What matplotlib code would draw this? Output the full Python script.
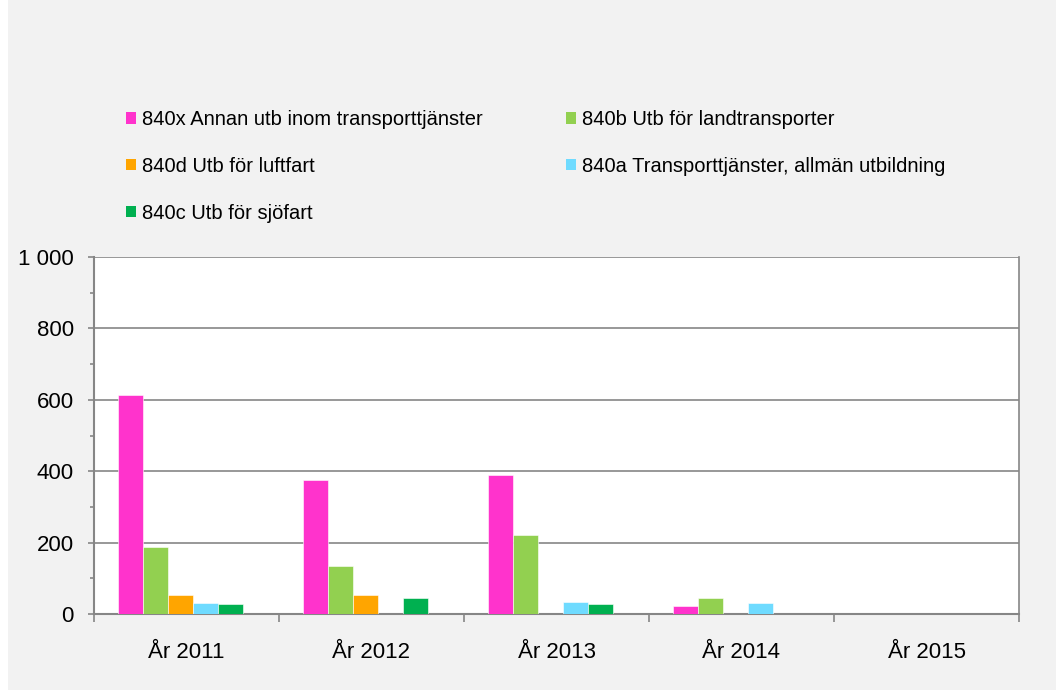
import numpy as np
import matplotlib.pyplot as plt
from matplotlib.patches import Patch, Rectangle
from matplotlib.ticker import MultipleLocator, FuncFormatter

plt.rcParams['font.family'] = ['Liberation Sans', 'DejaVu Sans']

years = ['År 2011', 'År 2012', 'År 2013', 'År 2014', 'År 2015']
labels = ['840x Annan utb inom transporttjänster', '840b Utb för landtransporter',
          '840d Utb för luftfart', '840a Transporttjänster, allmän utbildning',
          '840c Utb för sjöfart']
colors = ['#FF33CC', '#92D050', '#FFA500', '#6FDBFF', '#00B050']

v_840x = [613, 375, 389, 22, 0]
v_840b = [188, 134, 220, 44, 0]
v_840d = [53, 53, 0, 0, 0]
v_840a = [31, 0, 33, 32, 0]
v_840c = [29, 45, 29, 0, 0]
series = [v_840x, v_840b, v_840d, v_840a, v_840c]

fig = plt.figure(figsize=(10.56, 6.90), dpi=100, facecolor='white')
# grey chart area (thin white strip on the left like the reference)
fig.patches.append(Rectangle((8/1056, 0), 1 - 8/1056, 1, transform=fig.transFigure,
                             facecolor='#F2F2F2', edgecolor='none', zorder=-10))
ax = fig.add_axes([94/1056, 1-614/690, 925/1056, 357/690])
ax.set_facecolor('white')

x = np.arange(len(years))
w = 0.135
start = -0.5 + 24/185
for i, s in enumerate(series):
    ax.bar(x + start + w*i + w/2, s, width=w, color=colors[i], edgecolor='white', linewidth=0.4, zorder=3)

ax.set_xlim(-0.5, len(years)-0.5)
ax.set_ylim(0, 1000)
ax.yaxis.set_major_locator(MultipleLocator(200))
ax.yaxis.set_minor_locator(MultipleLocator(100))
ax.yaxis.set_major_formatter(FuncFormatter(lambda v, p: f'{int(v):,}'.replace(',', ' ')))
ax.grid(axis='y', which='major', color='#868686', linewidth=1.2, zorder=0)

ax.set_xticks(x)
ax.set_xticklabels(years, fontsize=16)
ax.set_xticks(np.arange(len(years)+1) - 0.5, minor=True)
ax.tick_params(axis='x', which='major', length=0, pad=20)
ax.tick_params(axis='x', which='minor', length=6, color='#868686', width=1.2)
ax.tick_params(axis='y', which='major', length=4.5, color='#868686', width=1.2, labelsize=16, pad=10)
ax.tick_params(axis='y', which='minor', length=3, color='#868686', width=1.2)

ax.spines['top'].set_visible(False)
for sp in ['left', 'bottom']:
    ax.spines[sp].set_color('#868686')
    ax.spines[sp].set_linewidth(1.5)
ax.spines['right'].set_color('#868686')
ax.spines['right'].set_linewidth(1.2)

handles = [Patch(facecolor=c, edgecolor='none') for c in colors]
leg_kw = dict(frameon=False, fontsize=14.5, handlelength=0.5, handleheight=0.5,
              handletextpad=0.3, labelspacing=1.38, borderpad=0, borderaxespad=0, loc='upper left')
l1 = fig.legend([handles[0], handles[2], handles[4]], [labels[0], labels[2], labels[4]],
                bbox_to_anchor=(126/1056, 1-110/690), **leg_kw)
l2 = fig.legend([handles[1], handles[3]], [labels[1], labels[3]],
                bbox_to_anchor=(566/1056, 1-110/690), **leg_kw)

fig.savefig('out.png', dpi=100, facecolor=fig.get_facecolor())
